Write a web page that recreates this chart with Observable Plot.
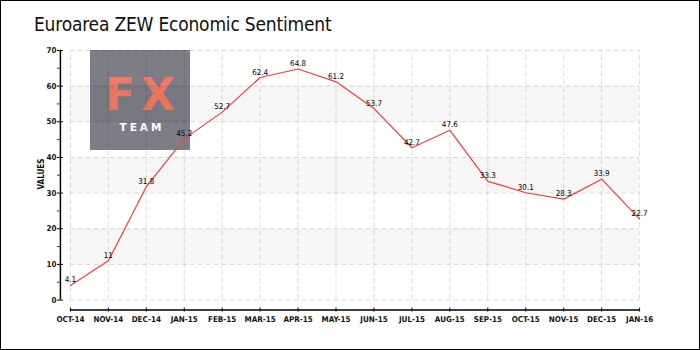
<!DOCTYPE html>
<html>
<head>
<meta charset="utf-8">
<script src="https://cdn.jsdelivr.net/npm/d3@7"></script>
<script src="https://cdn.jsdelivr.net/npm/@observablehq/plot@0.6"></script>
<style>
  html, body { margin: 0; padding: 0; background: #fff; }
  #wrap { position: relative; width: 700px; height: 350px; box-sizing: border-box; border: 1px solid #000; overflow: hidden; background: #fff; }
  #chart { position: absolute; left: -1px; top: -1px; }
  #title { position: absolute; left: 33px; top: 12px; font-family: "DejaVu Sans Condensed", "DejaVu Sans", sans-serif; font-size: 19px; color: #111; white-space: nowrap; letter-spacing: -0.2px; }
  #ylab { position: absolute; left: 40px; top: 173px; transform: translate(-50%, -50%) rotate(-90deg); font-family: "DejaVu Sans Condensed", sans-serif; font-weight: bold; font-size: 8px; line-height: 9px; color: #111; }
  #logo { position: absolute; left: 89px; top: 49px; width: 100px; height: 100px; background: #7d7d85; }
  #logo .fx { position: absolute; left: 3px; width: 100px; top: 28px; height: 34px; text-align: center; font-family: "DejaVu Sans", sans-serif; font-weight: bold; font-size: 44px; line-height: 34px; color: #f07a63; letter-spacing: 6px; }
  #logo .team { position: absolute; left: 2px; width: 100px; top: 72px; height: 10px; text-align: center; font-family: "DejaVu Sans", sans-serif; font-weight: bold; font-size: 10.5px; line-height: 10px; color: #fff; letter-spacing: 3px; }
</style>
</head>
<body>
<div id="wrap">
  <div id="logo"><div class="fx">FX</div><div class="team">TEAM</div></div>
  <div id="chart"></div>
  <div id="title">Euroarea ZEW Economic Sentiment</div>
  <div id="ylab">VALUES</div>
</div>
<script>
const months = ["OCT-14","NOV-14","DEC-14","JAN-15","FEB-15","MAR-15","APR-15","MAY-15","JUN-15","JUL-15","AUG-15","SEP-15","OCT-15","NOV-15","DEC-15","JAN-16"];
const values = [4.1, 11, 31.8, 45.2, 52.7, 62.4, 64.8, 61.2, 53.7, 42.7, 47.6, 33.3, 30.1, 28.3, 33.9, 22.7];
const yTicks = [0, 10, 20, 30, 40, 50, 60, 70];
const yMinor = [5, 15, 25, 35, 45, 55, 65];
const bands = [[10, 20], [30, 40], [50, 60]];

const data = months.map((m, i) => ({m, v: values[i]}));
const first = months[0], last = months[months.length - 1];
const font = '"DejaVu Sans Condensed", "DejaVu Sans", sans-serif';

const chart = Plot.plot({
  width: 700,
  height: 350,
  marginLeft: 60,
  marginRight: 60,
  marginTop: 50,
  marginBottom: 40,
  style: {background: "transparent", fontFamily: font, fontSize: "8px", color: "#111"},
  x: {type: "point", domain: months, range: [70, 640], padding: 0, align: 0.5},
  y: {domain: [0, 70], range: [300, 50]},
  marks: [
    Plot.rect(bands, {x1: () => first, x2: () => last, y1: d => d[0], y2: d => d[1], fill: "#000", fillOpacity: 0.035}),
    Plot.ruleY(yTicks, {x1: () => first, x2: () => last, y: d => d, stroke: "#000", strokeOpacity: 0.14, strokeDasharray: "5,3"}),
    Plot.ruleX(months, {x: d => d, y1: 0, y2: 70, stroke: "#000", strokeOpacity: 0.14, strokeDasharray: "5,3"}),
    Plot.line(data, {x: "m", y: "v", stroke: "#ff3a3a", strokeWidth: 1.2}),
    Plot.text(data, {x: "m", y: "v", text: d => String(d.v), dy: -3, lineAnchor: "bottom", fontSize: 8, fill: "#000"}),
    Plot.ruleX([first], {y1: 0, y2: 70, dx: -10, stroke: "#000", strokeWidth: 1.5}),
    Plot.ruleY([0], {x1: () => first, x2: () => last, dy: 10, stroke: "#000", strokeWidth: 1.5}),
    Plot.axisY(yTicks, {tickSize: 6, dx: 3, tickPadding: 1, fontWeight: "bold", fontSize: 8, label: null, stroke: "#000"}),
    Plot.axisY(yMinor, {tickSize: 3, stroke: "#e00000", text: null, label: null}),
    Plot.axisX(months, {tickSize: 4, dy: -2, tickPadding: 4, fontWeight: "bold", fontSize: 8, label: null, stroke: "#000"})
  ]
});
document.getElementById("chart").appendChild(chart);
</script>
</body>
</html>
